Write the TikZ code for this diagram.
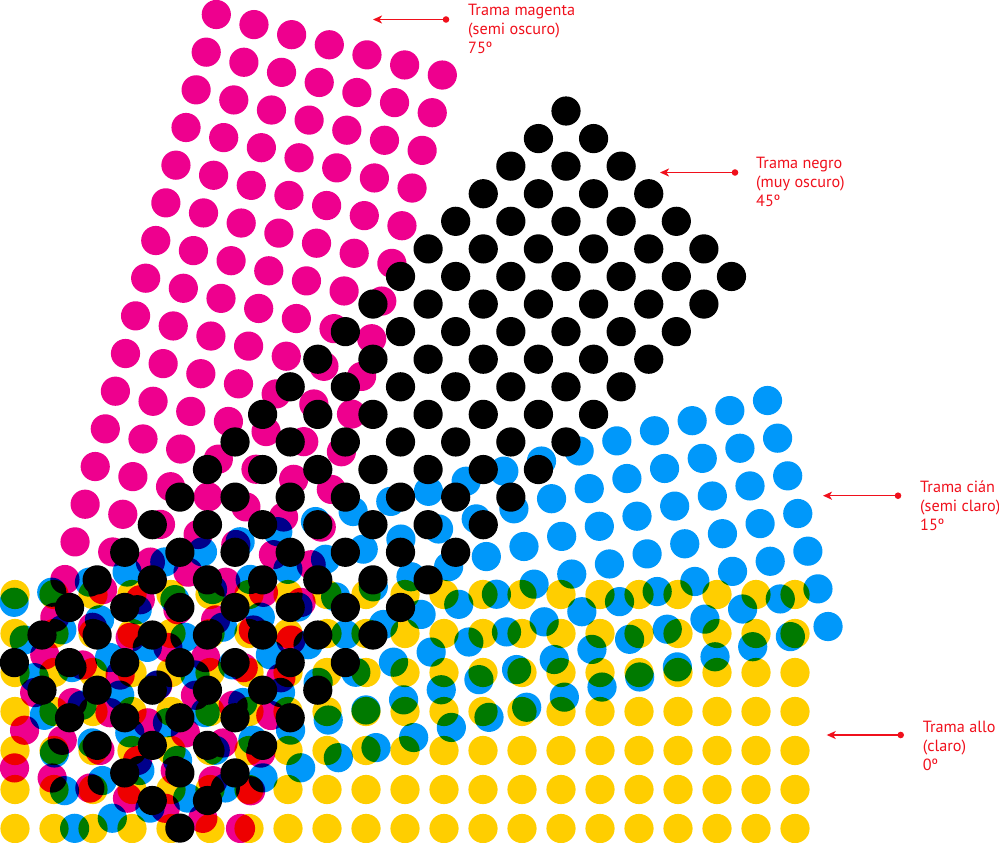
\documentclass[tikz,border=0pt]{standalone}
\usepackage{fontspec}
\setmainfont{PT Sans}
\usetikzlibrary{arrows.meta}
\definecolor{ye}{RGB}{255,206,0}
\definecolor{cy}{RGB}{0,152,250}
\definecolor{ma}{RGB}{238,0,142}
\definecolor{lab}{RGB}{240,16,28}
\begin{document}
\begin{tikzpicture}[x=1pt,y=-1pt,
  lbl/.style={anchor=north west,inner sep=0pt,align=left,text=lab,font=\fontsize{16.2}{19}\selectfont},
  lblarrow/.style={draw=lab,line width=1.5pt,-{Stealth[length=9pt,width=8pt,inset=2.5pt]}},
  lbldot/.style={fill=lab}]
\useasboundingbox (0,0) rectangle (999,843);
\def\rr{14.6}
\begin{scope}[blend group=multiply]
  % yellow 0 deg
  \foreach \i in {0,...,20}{\foreach \j in {0,...,6}{
    \fill[ye] ({15+39*\i},{594.5+39*\j}) circle[radius=\rr];}}
  % cyan 15 deg
  \foreach \i in {0,...,20}{\foreach \j in {0,...,6}{
    \fill[cy] ({767.5-37.67*\i+10.09*\j},{400.5+10.09*\i+37.67*\j}) circle[radius=\rr];}}
  % magenta 75 deg
  \foreach \i in {0,...,6}{\foreach \j in {0,...,20}{
    \fill[ma] ({216.3+37.67*\i-10.09*\j},{14.5+10.09*\i+37.67*\j}) circle[radius=\rr];}}
  % black 45 deg
  \foreach \i in {0,...,6}{\foreach \j in {0,...,20}{
    \fill[black] ({566+27.58*\i-27.58*\j},{111+27.58*\i+27.58*\j}) circle[radius=\rr];}}
\end{scope}
% labels
\node[lbl] (tm) at (468,4) {Trama magenta\\(semi oscuro)\\75º};
\node[lbl] (tn) at (756,156.7) {Trama negro\\(muy oscuro)\\45º};
\node[lbl] (tc) at (920,481) {Trama cián\\(semi claro)\\15º};
\node[lbl] (ta) at (922.7,721) {Trama allo\\(claro)\\0º};
\coordinate (m1) at (446,19.5); \coordinate (m2) at (373,19.5);
\coordinate (n1) at (735,172.5); \coordinate (n2) at (660,172.5);
\coordinate (c1) at (898,495.7); \coordinate (c2) at (823,495.7);
\coordinate (a1) at (900.7,735); \coordinate (a2) at (826.7,735);
\foreach \p in {m,n,c,a}{
  \draw[lblarrow] (\p1) -- (\p2);
  \fill[lbldot] (\p1) circle[radius=3.3];}
\end{tikzpicture}
\end{document}
